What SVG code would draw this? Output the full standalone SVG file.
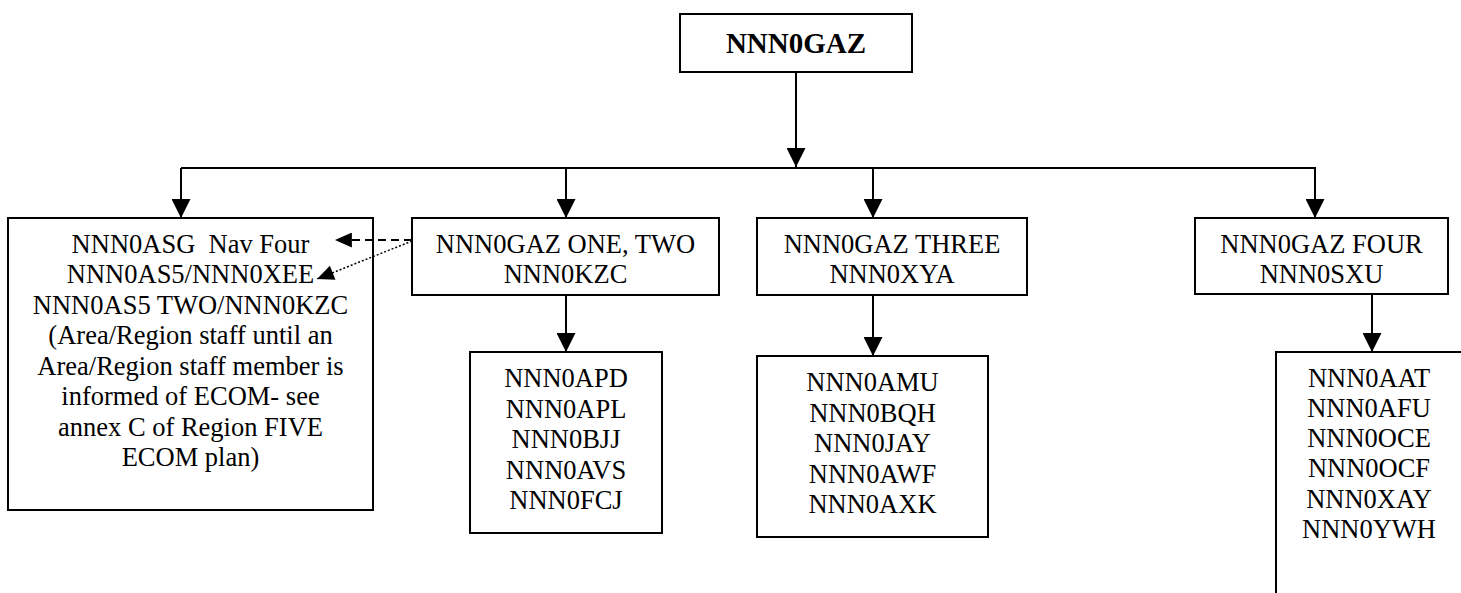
<svg xmlns="http://www.w3.org/2000/svg" width="1461" height="593" viewBox="0 0 1461 593">
<style>
.box{fill:#fff;stroke:#000;stroke-width:2}
.t{font-family:"Liberation Serif","Times New Roman",serif;font-size:26.5px;fill:#000;text-anchor:middle}
.b{font-family:"Liberation Serif","Times New Roman",serif;font-size:29px;font-weight:bold;fill:#000;text-anchor:middle}
.c{fill:none;stroke:#000;stroke-width:2}
</style>
<defs>
<marker id="ah" viewBox="0 0 20 20" refX="20" refY="10" markerWidth="20" markerHeight="19" markerUnits="userSpaceOnUse" orient="auto">
<path d="M0,0 L20,10 L0,20 z" fill="#000"/>
</marker>
<marker id="as" viewBox="0 0 18 16" refX="18" refY="8" markerWidth="18" markerHeight="15" markerUnits="userSpaceOnUse" orient="auto">
<path d="M0,0 L18,8 L0,16 z" fill="#000"/>
</marker>
</defs>
<rect width="1461" height="593" fill="#fff"/>
<g id="connectors">
<line class="c" x1="796" y1="72" x2="796" y2="167" marker-end="url(#ah)"/>
<line class="c" x1="181" y1="168" x2="1315" y2="168"/>
<line class="c" x1="181" y1="168" x2="181" y2="218" marker-end="url(#ah)"/>
<line class="c" x1="566" y1="168" x2="566" y2="218" marker-end="url(#ah)"/>
<line class="c" x1="873" y1="168" x2="873" y2="218" marker-end="url(#ah)"/>
<line class="c" x1="1315" y1="167" x2="1315" y2="218" marker-end="url(#ah)"/>
<line class="c" x1="566" y1="295" x2="566" y2="352" marker-end="url(#ah)"/>
<line class="c" x1="873" y1="295" x2="873" y2="356" marker-end="url(#ah)"/>
<line class="c" x1="1372" y1="294" x2="1372" y2="352" marker-end="url(#ah)"/>
</g>
<g id="n-top">
<rect class="box" x="680" y="14" width="232" height="58"/>
<text class="b" x="796" y="52.5">NNN0GAZ</text>
</g>
<g id="n-asg">
<rect class="box" x="8" y="218" width="365" height="292"/>
<text class="t" x="190.5" y="253">NNN0ASG&#160; Nav Four</text>
<text class="t" x="190.5" y="283">NNN0AS5/NNN0XEE</text>
<text class="t" x="190.5" y="313.5">NNN0AS5 TWO/NNN0KZC</text>
<text class="t" x="190.5" y="344">(Area/Region staff until an</text>
<text class="t" x="190.5" y="374.5">Area/Region staff member is</text>
<text class="t" x="190.5" y="405">informed of ECOM- see</text>
<text class="t" x="190.5" y="435.5">annex C of Region FIVE</text>
<text class="t" x="190.5" y="466">ECOM plan)</text>
</g>
<g id="n-one-two">
<rect class="box" x="412" y="218" width="307" height="77"/>
<text class="t" x="565.5" y="253">NNN0GAZ ONE, TWO</text>
<text class="t" x="565.5" y="283">NNN0KZC</text>
</g>
<g id="n-one-two-list">
<rect class="box" x="470" y="352" width="192" height="181"/>
<text class="t" x="566" y="387">NNN0APD</text>
<text class="t" x="566" y="417.5">NNN0APL</text>
<text class="t" x="566" y="448">NNN0BJJ</text>
<text class="t" x="566" y="478.5">NNN0AVS</text>
<text class="t" x="566" y="509">NNN0FCJ</text>
</g>
<g id="n-three">
<rect class="box" x="757" y="218" width="270" height="77"/>
<text class="t" x="892" y="253">NNN0GAZ THREE</text>
<text class="t" x="892" y="283">NNN0XYA</text>
</g>
<g id="n-three-list">
<rect class="box" x="757" y="356" width="231" height="181"/>
<text class="t" x="872.5" y="391">NNN0AMU</text>
<text class="t" x="872.5" y="421.5">NNN0BQH</text>
<text class="t" x="872.5" y="452">NNN0JAY</text>
<text class="t" x="872.5" y="482.5">NNN0AWF</text>
<text class="t" x="872.5" y="513">NNN0AXK</text>
</g>
<g id="n-four">
<rect class="box" x="1195" y="218" width="253" height="76"/>
<text class="t" x="1321.5" y="253">NNN0GAZ FOUR</text>
<text class="t" x="1321.5" y="283">NNN0SXU</text>
</g>
<g id="n-four-list">
<path class="box" d="M1461,352 H1276 V593"/>
<text class="t" x="1369" y="387">NNN0AAT</text>
<text class="t" x="1369" y="417">NNN0AFU</text>
<text class="t" x="1369" y="447">NNN0OCE</text>
<text class="t" x="1369" y="477">NNN0OCF</text>
<text class="t" x="1369" y="507.5">NNN0XAY</text>
<text class="t" x="1369" y="538">NNN0YWH</text>
</g>
<g id="side-links">
<line x1="412" y1="240" x2="335" y2="240" stroke="#000" stroke-width="2" stroke-dasharray="8,5" marker-end="url(#as)"/>
<line x1="412" y1="241" x2="317" y2="279" stroke="#000" stroke-width="1.5" stroke-dasharray="2,2" marker-end="url(#as)"/>
</g>
</svg>
